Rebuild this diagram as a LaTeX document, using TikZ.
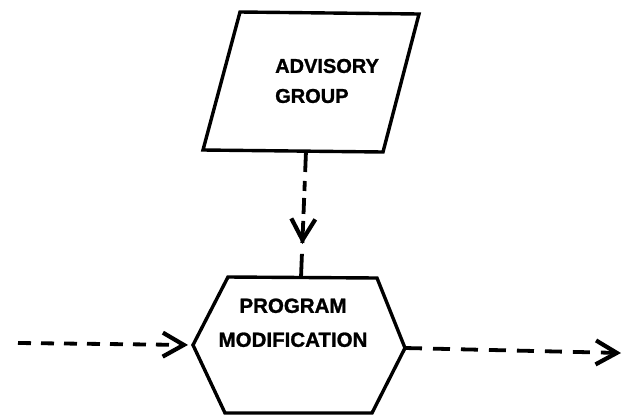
\documentclass[tikz,border=0pt]{standalone}
\usepackage{fontspec}
\setmainfont{Liberation Sans}[BoldFeatures={FakeBold=1.2}]
\usetikzlibrary{arrows.meta,decorations.markings}
\tikzset{vbarb/.tip={Straight Barb[length=21pt,width=24pt,line width=4.2pt]}}
\begin{document}
\begin{tikzpicture}[x=1pt,y=-1pt,
  shapeline/.style={line width=3.4pt,line join=miter},
  label/.style={inner sep=0pt,font=\fontsize{20}{30}\selectfont\bfseries},
  dashline/.style={line width=3.8pt}]
\useasboundingbox (0,0) rectangle (624,416);
% Advisory group (parallelogram)
\coordinate (agTL) at (240,12);
\coordinate (agTR) at (419,14);
\coordinate (agBR) at (383,152);
\coordinate (agBL) at (203,150);
\coordinate (agS) at (306,151);
\draw[shapeline] (agTL) -- (agTR) -- (agBR) -- (agBL) -- cycle;
\node[label,align=left,anchor=north west] (agtext) at (275,58.7) {ADVISORY\\GROUP};
% Program modification (hexagon)
\coordinate (pmTL) at (228,277);
\coordinate (pmTR) at (377,278);
\coordinate (pmR) at (405,348);
\coordinate (pmBR) at (372,413);
\coordinate (pmBL) at (225,413);
\coordinate (pmL) at (193,345);
\coordinate (pmN) at (301,277.5);
\draw[shapeline] (pmTL) -- (pmTR) -- (pmR) -- (pmBR) -- (pmBL) -- (pmL) -- cycle;
\node[label,align=center,anchor=north,font=\fontsize{20.5}{34}\selectfont\bfseries] (pmtext) at (293,298.3) {PROGRAM\\MODIFICATION};
% free ends
\coordinate (inStart) at (18,343);
\coordinate (outEnd) at (621,353);
% connectors
\draw[dashline,dash pattern=on 21pt off 9pt on 10pt off 7pt on 16pt off 7pt on 22pt off 11pt on 40pt,
  postaction={decorate},
  decoration={markings,mark=at position 0.736 with {\arrow{vbarb}}}]
  (agS) -- (pmN);
\draw[dashline,dash pattern=on 13pt off 10pt,-{vbarb},shorten >=5pt] (inStart) -- (pmL);
\draw[dashline,dash pattern=on 17pt off 11pt,-{vbarb}] (pmR) -- (outEnd);
\end{tikzpicture}
\end{document}
